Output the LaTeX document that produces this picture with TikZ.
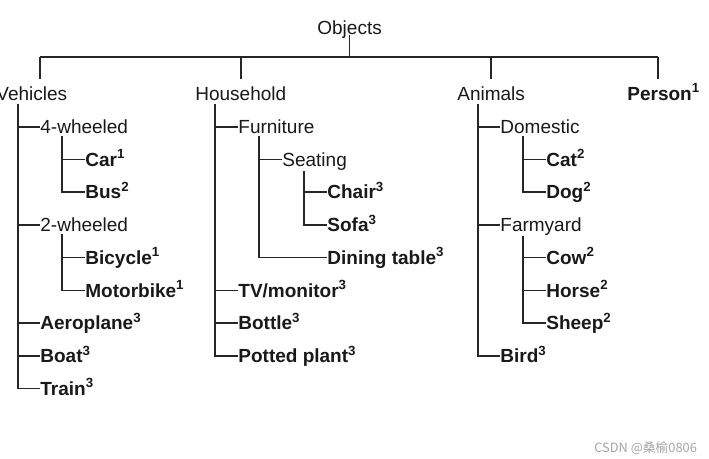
\documentclass[tikz,border=0pt]{standalone}
\usepackage{fontspec}
\setmainfont{Liberation Sans}
\newfontfamily\cjkfont{Noto Sans CJK SC}

\begin{document}
\begin{tikzpicture}[x=0.5pt, y=-0.5pt,
  every node/.style={font=\fontsize{9.5}{11}\selectfont, inner sep=0pt, anchor=west,
                     text height=6.8pt, text depth=0pt},
  grp/.style={text=black!90},
  item/.style={font=\fontsize{9.5}{11}\selectfont\bfseries, text=black!90},
  link/.style={draw=black!85, line width=0.7pt}
]
  \useasboundingbox (0,0) rectangle (709,459);
  \fill[white] (0,0) rectangle (709,459);

  % Wurzel
  \node[grp] (obj) at (317,28) {Objects};
  \node[grp] (veh) at (-4,93.5) {Vehicles};
  \node[grp] (house) at (195,93.5) {Household};
  \node[grp] (anim) at (457,93.5) {Animals};
  \node[item] (person) at (627,93.5) {Person\textsuperscript{1}};

  % Vehicles
  \node[grp] (four) at (40,127) {4-wheeled};
  \node[item] (car) at (85,159.5) {Car\textsuperscript{1}};
  \node[item] (bus) at (85,192) {Bus\textsuperscript{2}};
  \node[grp] (two) at (40,225) {2-wheeled};
  \node[item] (bike) at (85,257.5) {Bicycle\textsuperscript{1}};
  \node[item] (moto) at (85,290.5) {Motorbike\textsuperscript{1}};
  \node[item] (plane) at (40,323) {Aeroplane\textsuperscript{3}};
  \node[item] (boat) at (40,356) {Boat\textsuperscript{3}};
  \node[item] (train) at (40,388.5) {Train\textsuperscript{3}};

  % Household
  \node[grp] (furn) at (238,127) {Furniture};
  \node[grp] (seat) at (282,159.5) {Seating};
  \node[item] (chair) at (327,192) {Chair\textsuperscript{3}};
  \node[item] (sofa) at (327,225) {Sofa\textsuperscript{3}};
  \node[item] (table) at (327,257.5) {Dining table\textsuperscript{3}};
  \node[item] (tv) at (238,290.5) {TV/monitor\textsuperscript{3}};
  \node[item] (bottle) at (238,323) {Bottle\textsuperscript{3}};
  \node[item] (plant) at (238,356) {Potted plant\textsuperscript{3}};

  % Animals
  \node[grp] (dom) at (500,127) {Domestic};
  \node[item] (cat) at (546,159.5) {Cat\textsuperscript{2}};
  \node[item] (dog) at (546,192) {Dog\textsuperscript{2}};
  \node[grp] (farm) at (500,225) {Farmyard};
  \node[item] (cow) at (546,257.5) {Cow\textsuperscript{2}};
  \node[item] (horse) at (546,290.5) {Horse\textsuperscript{2}};
  \node[item] (sheep) at (546,323) {Sheep\textsuperscript{2}};
  \node[item] (bird) at (500,356) {Bird\textsuperscript{3}};

  % Querbalken
  \draw[link] (obj.south) -- ++(0,-11pt) coordinate (bar);
  \draw[link] ([xshift=22pt]veh.north west |- bar) -- ([xshift=15.5pt]person.north west |- bar);
  \draw[link] ([xshift=22pt]veh.north west |- bar) -- ([xshift=22pt,yshift=3.5pt]veh.north west);
  \draw[link] (house.north |- bar) -- ([yshift=3.5pt]house.north);
  \draw[link] (anim.north |- bar) -- ([yshift=3.5pt]anim.north);
  \draw[link] ([xshift=15.5pt]person.north west |- bar) -- ([xshift=15.5pt,yshift=3.5pt]person.north west);

  % Stamm-Punkte
  \coordinate (vehT) at ([shift={(11pt,-1.5pt)}]veh.south west);
  \coordinate (fourT) at ([shift={(11pt,-1pt)}]four.south west);
  \coordinate (twoT) at ([shift={(11pt,-1pt)}]two.south west);
  \coordinate (houseT) at ([shift={(10pt,-1.5pt)}]house.south west);
  \coordinate (furnT) at ([shift={(10.5pt,-1pt)}]furn.south west);
  \coordinate (seatT) at ([shift={(11pt,-2pt)}]seat.south west);
  \coordinate (animT) at ([shift={(10.5pt,-1.5pt)}]anim.south west);
  \coordinate (domT) at ([shift={(11.5pt,-1pt)}]dom.south west);
  \coordinate (farmT) at ([shift={(11.5pt,-2pt)}]farm.south west);

  % Aeste
  \draw[link] (vehT) |- (four.west) (vehT) |- (two.west) (vehT) |- (plane.west)
              (vehT) |- (boat.west) (vehT) |- (train.west);
  \draw[link] (fourT) |- (car.west) (fourT) |- (bus.west);
  \draw[link] (twoT) |- (bike.west) (twoT) |- (moto.west);
  \draw[link] (houseT) |- (furn.west) (houseT) |- (tv.west) (houseT) |- (bottle.west)
              (houseT) |- (plant.west);
  \draw[link] (furnT) |- (seat.west) (furnT) |- (table.west);
  \draw[link] (seatT) |- (chair.west) (seatT) |- (sofa.west);
  \draw[link] (animT) |- (dom.west) (animT) |- (farm.west) (animT) |- (bird.west);
  \draw[link] (domT) |- (cat.west) (domT) |- (dog.west);
  \draw[link] (farmT) |- (cow.west) (farmT) |- (horse.west) (farmT) |- (sheep.west);

  % Wasserzeichen
  \node[text=black!35, font=\cjkfont\fontsize{6.4}{7}\selectfont] (mark) at (594,446) {CSDN @桑榆0806};
\end{tikzpicture}
\end{document}
